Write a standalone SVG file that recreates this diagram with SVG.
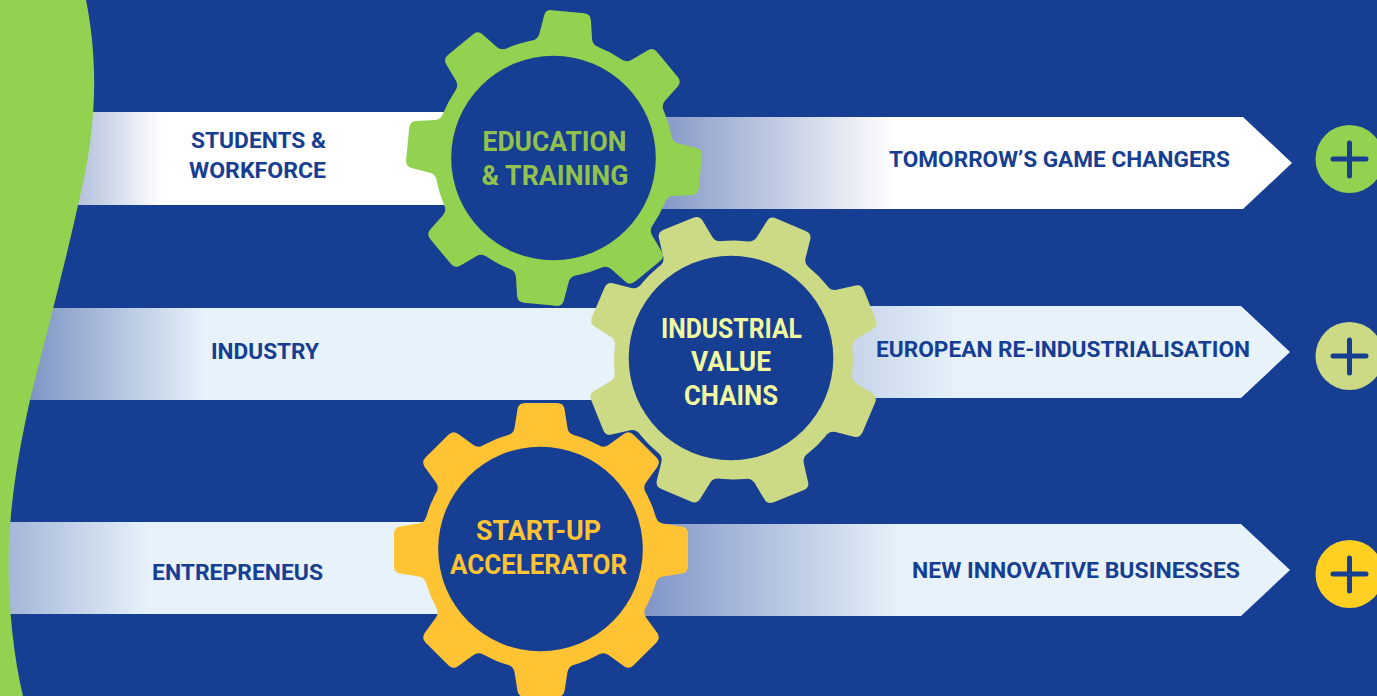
<svg xmlns="http://www.w3.org/2000/svg" width="1377" height="696" viewBox="0 0 1377 696">
<style>
text{font-family:"Roboto","Liberation Sans",sans-serif;font-weight:700;text-anchor:start}
.l{font-size:22px;fill:#163e92}
.g{font-size:27px}
.p{fill:none;stroke:#163e92;stroke-width:5;stroke-linecap:round}
.hole{fill:#163e92}
</style>
<defs>
<linearGradient id="gA" gradientUnits="userSpaceOnUse" x1="60" x2="162" y1="0" y2="0"><stop offset="0" stop-color="#a3b3d5"/><stop offset="1" stop-color="#fff"/></linearGradient>
<linearGradient id="gB" gradientUnits="userSpaceOnUse" x1="660" x2="895" y1="0" y2="0"><stop offset="0" stop-color="#8598c6"/><stop offset="1" stop-color="#fff"/></linearGradient>
<linearGradient id="gC" gradientUnits="userSpaceOnUse" x1="25" x2="205" y1="0" y2="0"><stop offset="0" stop-color="#7b93c3"/><stop offset="1" stop-color="#e7f2fa"/></linearGradient>
<linearGradient id="gD" gradientUnits="userSpaceOnUse" x1="790" x2="960" y1="0" y2="0"><stop offset="0" stop-color="#b5c4df"/><stop offset="1" stop-color="#e7f2fa"/></linearGradient>
<linearGradient id="gE" gradientUnits="userSpaceOnUse" x1="5" x2="150" y1="0" y2="0"><stop offset="0" stop-color="#a3b5d7"/><stop offset="1" stop-color="#e7f2fa"/></linearGradient>
<linearGradient id="gF" gradientUnits="userSpaceOnUse" x1="640" x2="900" y1="0" y2="0"><stop offset="0" stop-color="#7f94c5"/><stop offset="1" stop-color="#e7f2fa"/></linearGradient>
<path id="tooth" d="M-33,-114.800 Q-27.500,-116.500 -26.500,-122 L-23.500,-141 Q-22.500,-147 -16,-147 L16,-147 Q22.500,-147 23.500,-141 L26.500,-122 Q27.500,-116.500 33,-114.800 Z"/>
<g id="gear">
<circle r="119.500"/>
<use href="#tooth"/><use href="#tooth" transform="rotate(45)"/><use href="#tooth" transform="rotate(90)"/><use href="#tooth" transform="rotate(135)"/><use href="#tooth" transform="rotate(180)"/><use href="#tooth" transform="rotate(225)"/><use href="#tooth" transform="rotate(270)"/><use href="#tooth" transform="rotate(315)"/>
</g>
</defs>
<rect id="background" width="1377" height="696" fill="#163e92"/>
<g id="bar-students"><rect x="60" y="112" width="400" height="93" fill="url(#gA)"/><text class="l" x="191" y="148" textLength="135" lengthAdjust="spacingAndGlyphs">STUDENTS &amp;</text><text class="l" x="189" y="178" textLength="137" lengthAdjust="spacingAndGlyphs">WORKFORCE</text></g>
<g id="bar-changers"><path d="M640,117H1243L1292,163L1243,209H640Z" fill="url(#gB)"/><text class="l" x="889" y="167" textLength="341" lengthAdjust="spacingAndGlyphs">TOMORROW’S GAME CHANGERS</text></g>
<g id="bar-industry"><rect x="25" y="308" width="600" height="92" fill="url(#gC)"/><text class="l" x="211" y="359" textLength="108" lengthAdjust="spacingAndGlyphs">INDUSTRY</text></g>
<g id="bar-reindustrialisation"><path d="M790,306H1241L1290,352L1241,398H790Z" fill="url(#gD)"/><text class="l" x="876" y="357" textLength="374" lengthAdjust="spacingAndGlyphs">EUROPEAN RE-INDUSTRIALISATION</text></g>
<g id="bar-entrepreneus"><rect x="5" y="522" width="450" height="92" fill="url(#gE)"/><text class="l" x="152" y="580" textLength="171" lengthAdjust="spacingAndGlyphs">ENTREPRENEUS</text></g>
<g id="bar-businesses"><path d="M630,524H1241L1290,570L1241,616H630Z" fill="url(#gF)"/><text class="l" x="912" y="578" textLength="328" lengthAdjust="spacingAndGlyphs">NEW INNOVATIVE BUSINESSES</text></g>
<path id="green-wave" d="M0,0H86C98,60 98,125 78,205C66,260 50,320 30,400C20,445 12,490 9,540C7,590 12,650 23,696H0Z" fill="#92d250"/>
<g id="gear-education">
<use href="#gear" transform="translate(554,158) rotate(5.500)" fill="#92d250"/><circle class="hole" cx="553.500" cy="158" r="102.300"/>
<text class="g" x="482.500" y="151" fill="#92c24e" textLength="144" lengthAdjust="spacingAndGlyphs">EDUCATION</text><text class="g" x="481.500" y="185" fill="#92c24e" textLength="147" lengthAdjust="spacingAndGlyphs">&amp; TRAINING</text>
</g>
<g id="gear-industrial">
<use href="#gear" transform="translate(733.500,360) rotate(23)" fill="#ccd985"/><circle class="hole" cx="731" cy="358" r="102.300"/>
<text class="g" x="661" y="338" fill="#f1fa9f" textLength="141" lengthAdjust="spacingAndGlyphs">INDUSTRIAL</text><text class="g" x="691" y="371" fill="#f1fa9f" textLength="80" lengthAdjust="spacingAndGlyphs">VALUE</text><text class="g" x="684" y="405" fill="#f1fa9f" textLength="94" lengthAdjust="spacingAndGlyphs">CHAINS</text>
</g>
<g id="gear-startup">
<use href="#gear" transform="translate(541,550)" fill="#ffc333"/><circle class="hole" cx="540.500" cy="549" r="102.300"/>
<text class="g" x="476" y="540" fill="#ffc333" textLength="125" lengthAdjust="spacingAndGlyphs">START-UP</text><text class="g" x="450" y="574" fill="#ffc333" textLength="177" lengthAdjust="spacingAndGlyphs">ACCELERATOR</text>
</g>
<g id="plus-1"><circle cx="1349.500" cy="159" r="34" fill="#92d250"/><path class="p" d="M1333,159H1366M1349.500,143V176"/></g>
<g id="plus-2"><circle cx="1349.500" cy="356" r="34" fill="#ccd985"/><path class="p" d="M1333,356H1366M1349.500,340V373"/></g>
<g id="plus-3"><circle cx="1349.500" cy="574" r="34" fill="#ffd021"/><path class="p" d="M1333,574H1366M1349.500,558V591"/></g>
</svg>
